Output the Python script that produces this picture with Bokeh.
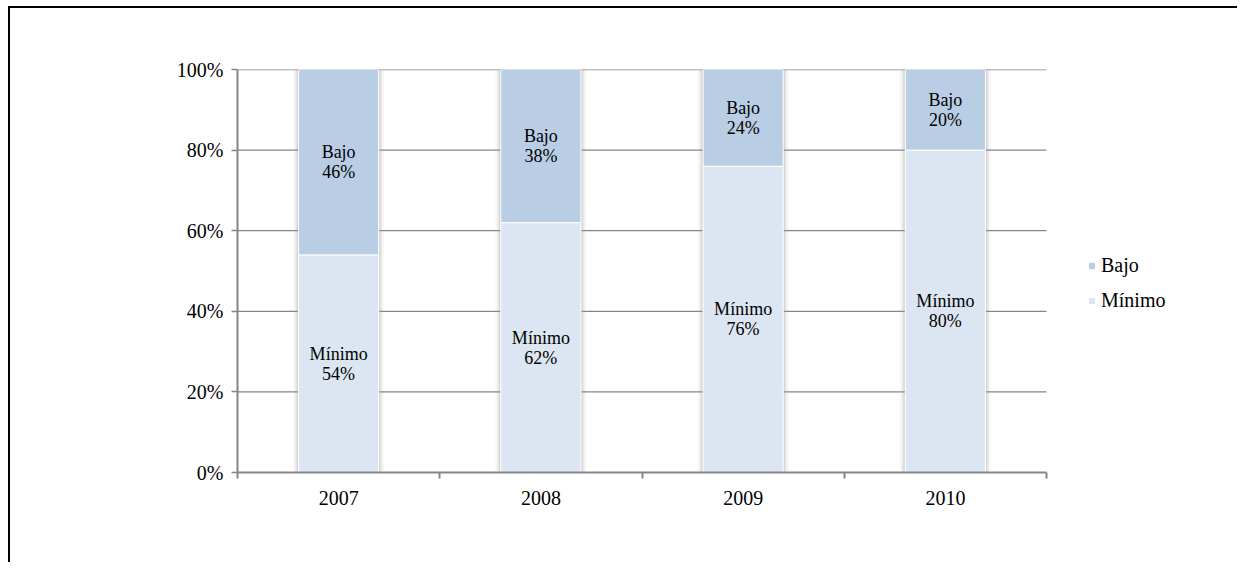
from bokeh.plotting import figure
from bokeh.models import ColumnDataSource, FixedTicker, Legend, LegendItem, Range1d
from bokeh.core.properties import value
from bokeh.embed import file_html
from bokeh.resources import INLINE

years = ["2007", "2008", "2009", "2010"]
minimo = [0.54, 0.62, 0.76, 0.80]
bajo = [0.46, 0.38, 0.24, 0.20]
y_ticks = [0, 0.2, 0.4, 0.6, 0.8, 1.0]
y_labels = ["0%", "20%", "40%", "60%", "80%", "100%"]

FONT = "Liberation Serif"
C_BAJO = "#B9CDE5"
C_MIN = "#DCE6F2"
GRID = "#868686"

n = len(years)
xs = [i + 0.5 for i in range(n)]
src = ColumnDataSource(dict(
    x=xs, minimo=minimo, bajo=bajo,
    total=[m + b for m, b in zip(minimo, bajo)],
    min_mid=[m / 2 for m in minimo],
    bajo_mid=[m + b / 2 for m, b in zip(minimo, bajo)],
    min_lab=["Mínimo\n%d%%" % round(m * 100) for m in minimo],
    bajo_lab=["Bajo\n%d%%" % round(b * 100) for b in bajo],
))

W, H = 1229, 556
B_LEFT, B_RIGHT, B_TOP, B_BOTTOM = 227, 10, 61, 92
FRAME_W = W - B_LEFT - B_RIGHT
DATA_W = 809  # pixels used by the categories
x_end = n * FRAME_W / DATA_W

p = figure(width=W, height=H, output_backend="svg", toolbar_location=None,
           x_range=Range1d(0, x_end), y_range=Range1d(0, 1))
p.min_border_left = B_LEFT
p.min_border_top = B_TOP
p.min_border_bottom = B_BOTTOM
p.min_border_right = B_RIGHT
p.outline_line_color = None
p.background_fill_color = "white"
p.border_fill_color = "white"
p.styles = {"border-left": "2px solid black", "border-top": "2px solid black",
            "margin-left": "8px", "margin-top": "6px"}

# gridlines limited to the category area
p.xgrid.grid_line_color = None
p.ygrid.grid_line_color = None
gy = y_ticks[1:]
p.segment(x0=[0] * len(gy), x1=[n] * len(gy), y0=gy, y1=gy,
          line_color=GRID, line_width=1.3)

# shadow
for w, a in [(0.45, 0.08), (0.43, 0.14), (0.415, 0.25)]:
    p.vbar(x="x", top="total", bottom=0, width=w, source=src,
           fill_color="#9a9a9a", fill_alpha=a, line_color=None)

r_min = p.vbar(x="x", top="minimo", bottom=0, width=0.396, source=src,
               fill_color=C_MIN, line_color="white", line_width=1)
r_bajo = p.vbar(x="x", top="total", bottom="minimo", width=0.396, source=src,
                fill_color=C_BAJO, line_color="white", line_width=1)

for col, lab in [("min_mid", "min_lab"), ("bajo_mid", "bajo_lab")]:
    p.text(x="x", y=col, text=lab, source=src, text_align="center",
           text_baseline="middle", text_font=value(FONT),
           text_font_size="18px", text_color="black", text_line_height=1.0)

# axes
p.xaxis.bounds = (0, n)
p.xaxis.ticker = FixedTicker(ticks=xs, minor_ticks=list(range(n + 1)))
p.xaxis.major_label_overrides = {x: y for x, y in zip(xs, years)}
p.xaxis.major_tick_line_color = None
p.xaxis.minor_tick_in = 0
p.xaxis.minor_tick_out = 6
p.xaxis.minor_tick_line_color = GRID
p.xaxis.minor_tick_line_width = 2
p.xaxis.axis_line_color = GRID
p.xaxis.axis_line_width = 2
p.xaxis.major_label_standoff = 12

p.yaxis.ticker = FixedTicker(ticks=y_ticks)
p.yaxis.major_label_overrides = {t: l for t, l in zip(y_ticks, y_labels)}
p.yaxis.minor_tick_line_color = None
p.yaxis.major_tick_in = 0
p.yaxis.major_tick_out = 6
p.yaxis.major_tick_line_color = GRID
p.yaxis.major_tick_line_width = 1.3
p.yaxis.axis_line_color = GRID
p.yaxis.axis_line_width = 2
p.yaxis.major_label_standoff = 8

for ax in (p.xaxis, p.yaxis):
    ax.major_label_text_font = FONT
    ax.major_label_text_font_size = "20px"
    ax.major_label_text_color = "black"

legend = Legend(items=[LegendItem(label="Bajo", renderers=[r_bajo]),
                       LegendItem(label="Mínimo", renderers=[r_min])],
                location=(850, 160), orientation="vertical",
                glyph_width=9, glyph_height=9, spacing=12,
                label_text_font=FONT, label_text_font_size="20px",
                label_text_color="black",
                label_standoff=5, border_line_color=None,
                background_fill_alpha=0, padding=0, margin=0)
p.add_layout(legend, "center")

open("out.html", "w").write(file_html(p, INLINE))
